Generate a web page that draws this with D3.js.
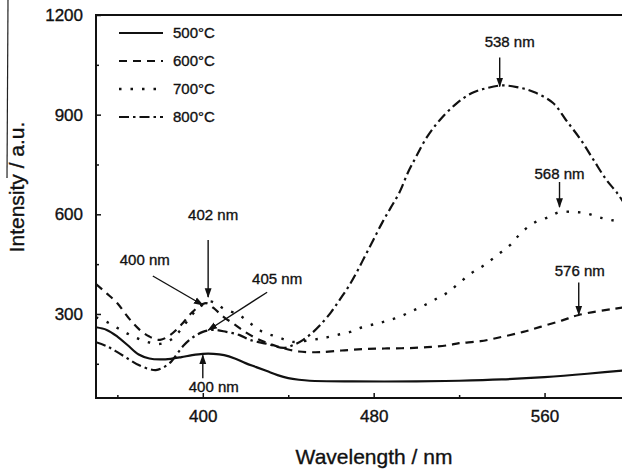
<!DOCTYPE html>
<html>
<head>
<meta charset="utf-8">
<script src="https://cdn.jsdelivr.net/npm/d3@7"></script>
<style>
  body { margin: 0; background: #fff; }
  text { font-family: Arial, "Liberation Sans", sans-serif; fill: #111; stroke: #111; stroke-width: 0.35px; }
</style>
</head>
<body>
<svg id="chart"></svg>
<script>
// ---- data ----
const seriesNames = ['500°C', '600°C', '700°C', '800°C'];

const nm500  = [350,355,360,365,370,375,380,385,390,395,400,405,410,415,420,425,430,435,440,445,450,470,500,520,540,560,580,600];
const int500 = [260,252,232,205,178,166,163,165,170,176,180,180,176,166,152,140,128,116,107,102,99,97,97,99,103,110,120,132];

const nm600  = [350,355,360,365,370,375,380,385,390,395,400,402,405,410,415,420,425,430,435,440,445,450,455,465,475,485,495,505,515,520,530,540,550,558,568,576,592,600];
const int600 = [390,362,332,290,255,232,222,238,268,305,330,332,318,290,268,245,227,213,202,193,187,185,185,190,194,196,197,200,206,212,218,231,246,261,280,297,315,322];

const nm700  = [350,355,360,365,370,375,380,385,390,395,400,403,406,410,417,422,428,435,442,451,457,463,469,475,481,486,492,498,504,510,515,520,526,532,538,544,549,555,562,567,573,579,585,591,600];
const int700 = [290,276,258,240,225,214,210,222,255,298,328,338,332,315,297,273,246,231,216,222,228,237,246,261,270,279,291,309,327,348,366,393,424,448,478,508,544,574,592,607,607,604,592,583,572];

const nm800  = [350,355,360,365,370,375,378,381,385,388,391,395,400,405,411,417,422,430,438,443,447,451,455,460,464,468,472,476,480,484,488,492,496,500,505,511,519,526,533,540,547,555,564,570,577,583,589,594,600];
const int800 = [215,203,185,165,146,134,131,137,155,180,205,228,246,252,246,237,222,210,198,208,222,242,267,305,342,380,425,475,525,575,620,665,725,775,833,884,935,965,980,988,983,968,935,884,824,763,703,664,605];

const yTicks = [300, 600, 900, 1200];
const yMinorTicks = [150, 450, 750, 1050];
const xTicks = [400, 480, 560];
const xMinorTicks = [360, 440, 520];

const peakLabels = ['538 nm', '568 nm', '576 nm', '402 nm', '400 nm', '405 nm', '400 nm'];
const peakNm     = [539, 567, 576, 402.5, 400, 402.5, 400];
const peakValue  = [985, 622, 298, 351, 327, 251, 176];

// ---- layout ----
const width = 622, height = 469;
const margin = { top: 15, left: 96 };
const plotW = 534, plotH = 383;

const svg = d3.select('#chart').attr('width', width).attr('height', height);

// scan artifact on the left edge
svg.append('line').attr('x1', 8).attr('y1', 0).attr('x2', 7).attr('y2', 178)
  .attr('stroke', '#222').attr('stroke-width', 1.2);

const chart = svg.append('g').attr('transform', `translate(${margin.left}, ${margin.top})`);

const x = d3.scaleLinear().domain([350, 600]).range([0, plotW]);
const y = d3.scaleLinear().domain([47, 1200]).range([plotH, 0]);

chart.append('clipPath').attr('id', 'clip')
  .append('rect').attr('width', plotW).attr('height', plotH);

// axes
const yAxis = chart.append('g').call(d3.axisLeft(y).tickValues(yTicks).tickSize(-5).tickSizeOuter(0)
  .tickPadding(13).tickFormat(d3.format('d')));
const yMinor = chart.append('g').call(d3.axisLeft(y).tickValues(yMinorTicks).tickSize(-3).tickSizeOuter(0).tickFormat(''));
const xAxis = chart.append('g').attr('transform', `translate(0, ${plotH})`)
  .call(d3.axisBottom(x).tickValues(xTicks).tickSize(-5).tickSizeOuter(0).tickPadding(12));
const xMinor = chart.append('g').attr('transform', `translate(0, ${plotH})`)
  .call(d3.axisBottom(x).tickValues(xMinorTicks).tickSize(-3).tickSizeOuter(0).tickFormat(''));

[yAxis, yMinor, xAxis, xMinor].forEach(g => {
  g.select('.domain').remove();
  g.selectAll('line').attr('stroke', '#111').attr('stroke-width', 1.5);
  g.selectAll('text').attr('font-size', 17).style('fill', '#111');
});

// frame
chart.append('rect').attr('width', plotW).attr('height', plotH)
  .attr('fill', 'none').attr('stroke', '#111').attr('stroke-width', 2);

// curves
const styles = [
  { dash: null, w: 2.2 },
  { dash: '8,6', w: 2.2 },
  { dash: '2.5,9', w: 2.4 },
  { dash: '10,4,2.5,4', w: 2.2 }
];
const allSeries = [
  d3.zip(nm500, int500), d3.zip(nm600, int600),
  d3.zip(nm700, int700), d3.zip(nm800, int800)
];

const line = d3.line().x(d => x(d[0])).y(d => y(d[1])).curve(d3.curveCatmullRom.alpha(0.5));

chart.append('g').attr('clip-path', 'url(#clip)')
  .selectAll('path').data(allSeries).join('path')
  .attr('d', line)
  .attr('fill', 'none')
  .attr('stroke', '#111')
  .attr('stroke-width', (d, i) => styles[i].w)
  .attr('stroke-dasharray', (d, i) => styles[i].dash);

// legend
const legend = chart.append('g');
seriesNames.forEach((name, i) => {
  const ly = 18 + i * 28;
  legend.append('line').attr('x1', 23).attr('x2', 67).attr('y1', ly).attr('y2', ly)
    .attr('stroke', '#111').attr('stroke-width', styles[i].w)
    .attr('stroke-dasharray', styles[i].dash);
  legend.append('text').attr('x', 77).attr('y', ly + 5).attr('font-size', 15).text(name);
});

// peak annotations: arrow tail offset and label offset relative to the tip
const arrowTail = [[0, -29], [0, -25], [0, -32], [0, -57], [-50, -29], [59, -38], [0, 23]];
const labelPos  = [[10, -39], [0, -28], [1, -39], [5, -77], [-58, -40], [69, -46], [11, 37]];

svg.append('defs').append('marker').attr('id', 'head')
  .attr('viewBox', '0 0 10 10').attr('refX', 9).attr('refY', 5)
  .attr('markerWidth', 7).attr('markerHeight', 7).attr('orient', 'auto')
  .append('path').attr('d', 'M0,1.5 L10,5 L0,8.5 Z').attr('fill', '#111');

const ann = chart.append('g');
peakLabels.forEach((label, i) => {
  const tx = x(peakNm[i]), ty = y(peakValue[i]);
  ann.append('line')
    .attr('x1', tx + arrowTail[i][0]).attr('y1', ty + arrowTail[i][1])
    .attr('x2', tx).attr('y2', ty)
    .attr('stroke', '#111').attr('stroke-width', 1.4)
    .attr('marker-end', 'url(#head)');
  ann.append('text')
    .attr('x', tx + labelPos[i][0]).attr('y', ty + labelPos[i][1])
    .attr('text-anchor', 'middle').attr('font-size', 15).text(label);
});

// axis titles
svg.append('text').attr('x', 374).attr('y', 464).attr('text-anchor', 'middle')
  .attr('font-size', 21).text('Wavelength / nm');
svg.append('text').attr('transform', 'translate(24, 187) rotate(-90)')
  .attr('text-anchor', 'middle').attr('font-size', 21).text('Intensity / a.u.');
</script>
</body>
</html>
